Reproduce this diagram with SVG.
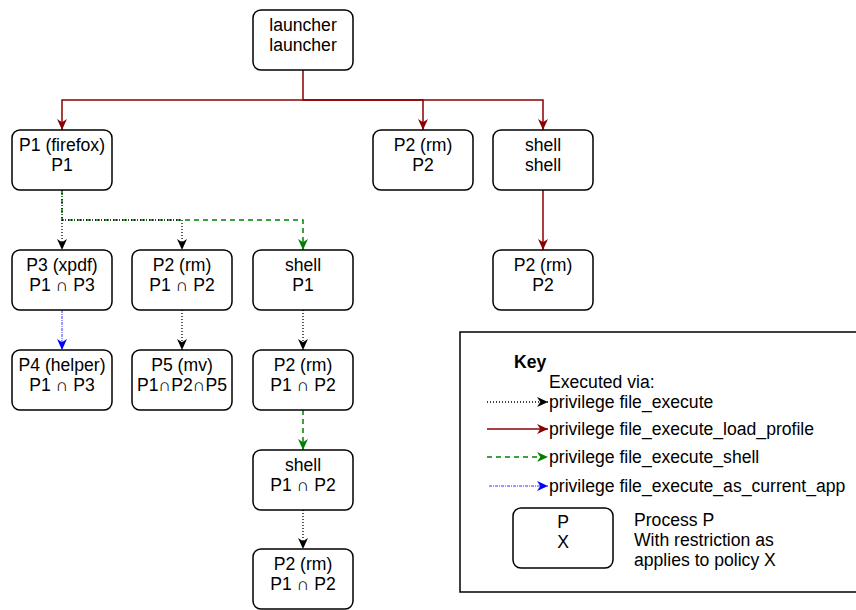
<svg xmlns="http://www.w3.org/2000/svg" width="856" height="610" viewBox="0 0 856 610">
<defs>
<style>
.box{fill:#fff;stroke:#000;stroke-width:1.5}
.t{font-family:"Liberation Sans",Arial,sans-serif;font-size:17.6px;fill:#000}
.c{text-anchor:middle}
.red{fill:none;stroke:#8b0000;stroke-width:1.5}
.blk{fill:none;stroke:#000;stroke-width:1.3;stroke-dasharray:1 2}
.grn{fill:none;stroke:#008000;stroke-width:1.5;stroke-dasharray:5 4}
.blu{fill:none;stroke:#0000ff;stroke-width:0.8;stroke-dasharray:3 1 1 1}
</style>
<marker id="aRed" viewBox="0 0 10 10" refX="10" refY="5" markerWidth="11" markerHeight="11" markerUnits="userSpaceOnUse" orient="auto"><path d="M0,0.5 L10,5 L0,9.5 L3,5 z" fill="#8b0000"/></marker>
<marker id="aBlk" viewBox="0 0 10 10" refX="10" refY="5" markerWidth="11" markerHeight="11" markerUnits="userSpaceOnUse" orient="auto"><path d="M0,0.5 L10,5 L0,9.5 L3,5 z" fill="#000"/></marker>
<marker id="aGrn" viewBox="0 0 10 10" refX="10" refY="5" markerWidth="11" markerHeight="11" markerUnits="userSpaceOnUse" orient="auto"><path d="M0,0.5 L10,5 L0,9.5 L3,5 z" fill="#008000"/></marker>
<marker id="aBlu" viewBox="0 0 10 10" refX="10" refY="5" markerWidth="11" markerHeight="11" markerUnits="userSpaceOnUse" orient="auto"><path d="M0,0.5 L10,5 L0,9.5 L3,5 z" fill="#0000ff"/></marker>
</defs>
<rect width="856" height="610" fill="#fff"/>

<g id="connectors">
<path class="red" d="M303,70 V100 H62 V130" marker-end="url(#aRed)"/>
<path class="red" d="M303,100 H423 V130" marker-end="url(#aRed)"/>
<path class="red" d="M303,100 H543 V130" marker-end="url(#aRed)"/>
<path class="red" d="M543,190 V250" marker-end="url(#aRed)"/>
<path class="grn" d="M62,190 V220 H303 V250" marker-end="url(#aGrn)"/>
<path class="blk" d="M62,190 V250" marker-end="url(#aBlk)"/>
<path class="blk" d="M62,220 H182 V250" marker-end="url(#aBlk)"/>
<path class="blu" d="M62,310 V350" marker-end="url(#aBlu)"/>
<path class="blk" d="M182,310 V350" marker-end="url(#aBlk)"/>
<path class="blk" d="M303,310 V350" marker-end="url(#aBlk)"/>
<path class="grn" d="M303,410 V450" marker-end="url(#aGrn)"/>
<path class="blk" d="M303,510 V549" marker-end="url(#aBlk)"/>
</g>

<g id="launcher"><rect class="box" x="253" y="10" width="100" height="60" rx="8"/><text class="t c" x="303" y="31">launcher</text><text class="t c" x="303" y="51">launcher</text></g>
<g id="p1firefox"><rect class="box" x="12" y="130" width="100" height="60" rx="8"/><text class="t c" x="62" y="151">P1 (firefox)</text><text class="t c" x="62" y="171">P1</text></g>
<g id="p2rm_top"><rect class="box" x="373" y="130" width="100" height="60" rx="8"/><text class="t c" x="423" y="151">P2 (rm)</text><text class="t c" x="423" y="171">P2</text></g>
<g id="shell_top"><rect class="box" x="493" y="130" width="100" height="60" rx="8"/><text class="t c" x="543" y="151">shell</text><text class="t c" x="543" y="171">shell</text></g>
<g id="p2rm_shell"><rect class="box" x="493" y="250" width="100" height="60" rx="8"/><text class="t c" x="543" y="271">P2 (rm)</text><text class="t c" x="543" y="291">P2</text></g>
<g id="p3xpdf"><rect class="box" x="12" y="250" width="100" height="60" rx="8"/><text class="t c" x="62" y="271">P3 (xpdf)</text><text class="t c" x="62" y="291">P1 ∩ P3</text></g>
<g id="p2rm_p1"><rect class="box" x="132" y="250" width="100" height="60" rx="8"/><text class="t c" x="182" y="271">P2 (rm)</text><text class="t c" x="182" y="291">P1 ∩ P2</text></g>
<g id="shell_p1"><rect class="box" x="253" y="250" width="100" height="60" rx="8"/><text class="t c" x="303" y="271">shell</text><text class="t c" x="303" y="291">P1</text></g>
<g id="p4helper"><rect class="box" x="12" y="350" width="100" height="60" rx="8"/><text class="t c" x="62" y="371">P4 (helper)</text><text class="t c" x="62" y="391">P1 ∩ P3</text></g>
<g id="p5mv"><rect class="box" x="132" y="350" width="100" height="60" rx="8"/><text class="t c" x="182" y="371">P5 (mv)</text><text class="t c" x="182" y="391">P1∩P2∩P5</text></g>
<g id="p2rm_mid"><rect class="box" x="253" y="350" width="100" height="60" rx="8"/><text class="t c" x="303" y="371">P2 (rm)</text><text class="t c" x="303" y="391">P1 ∩ P2</text></g>
<g id="shell_mid"><rect class="box" x="253" y="450" width="100" height="60" rx="8"/><text class="t c" x="303" y="471">shell</text><text class="t c" x="303" y="491">P1 ∩ P2</text></g>
<g id="p2rm_bottom"><rect class="box" x="253" y="549" width="100" height="60" rx="8"/><text class="t c" x="303" y="570">P2 (rm)</text><text class="t c" x="303" y="590">P1 ∩ P2</text></g>

<g id="key">
<rect x="460" y="332" width="400" height="260" fill="#fff" stroke="#000" stroke-width="1.5"/>
<text class="t" x="514" y="368" font-weight="bold">Key</text>
<text class="t" x="549" y="388">Executed via:</text>
<path class="blk" d="M487,402 H548" marker-end="url(#aBlk)"/>
<text class="t" x="549" y="408">privilege file_execute</text>
<path class="red" d="M487,429 H548" marker-end="url(#aRed)"/>
<text class="t" x="549" y="435">privilege file_execute_load_profile</text>
<path class="grn" d="M487,457 H548" marker-end="url(#aGrn)"/>
<text class="t" x="549" y="463">privilege file_execute_shell</text>
<path class="blu" d="M489,486 H548" marker-end="url(#aBlu)"/>
<text class="t" x="549" y="492">privilege file_execute_as_current_app</text>
<rect class="box" x="513" y="508" width="100" height="60" rx="8"/>
<text class="t c" x="563" y="528">P</text>
<text class="t c" x="563" y="548">X</text>
<text class="t" x="634" y="526">Process P</text>
<text class="t" x="634" y="546">With restriction as</text>
<text class="t" x="634" y="566">applies to policy X</text>
</g>
</svg>
